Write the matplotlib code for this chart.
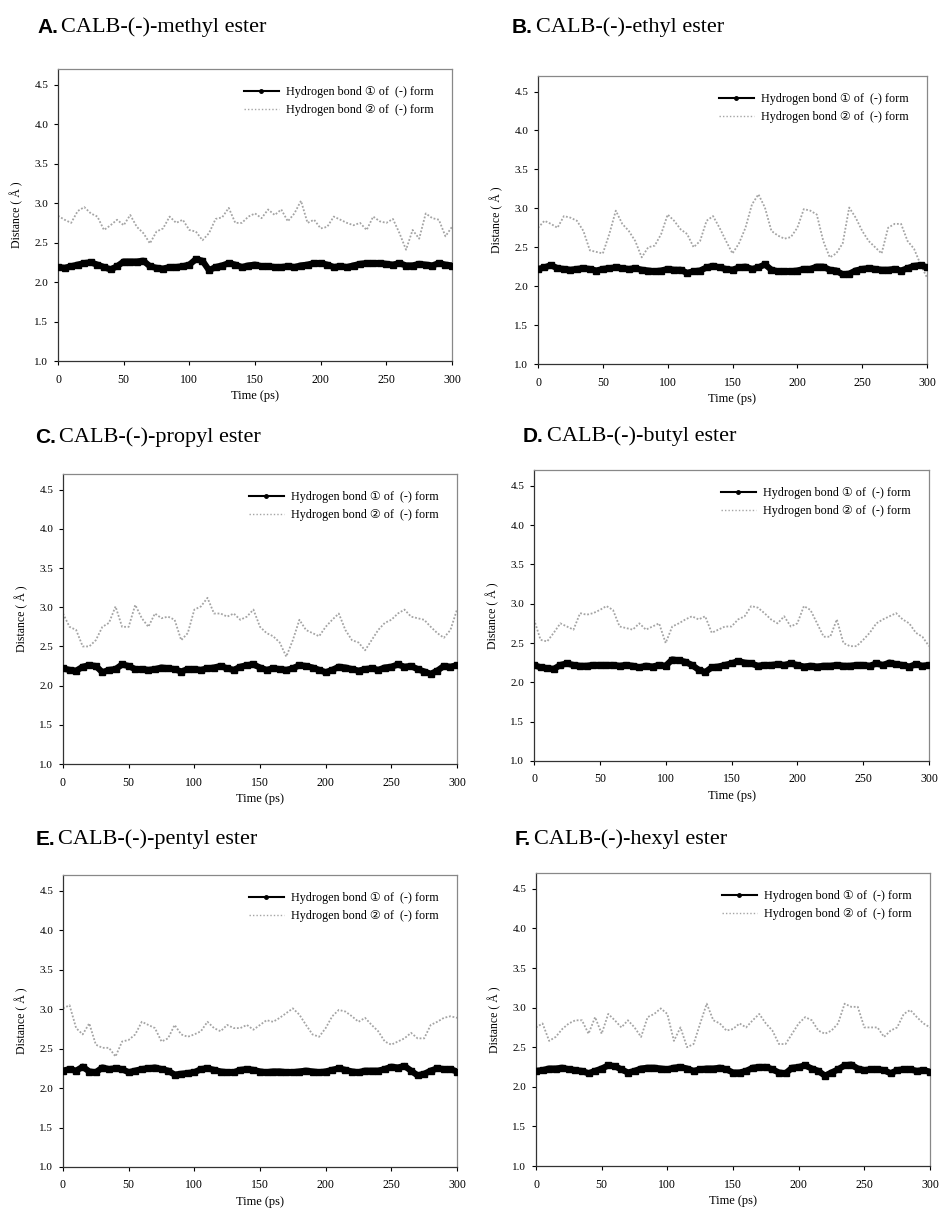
import numpy as np
import matplotlib
matplotlib.use("Agg")
import matplotlib.pyplot as plt

# time axis, sampled every 5 ps
time_ps = np.arange(0, 301, 5)

# panel A - methyl ester
a_bond1 = [2.19, 2.18, 2.20, 2.22, 2.24, 2.25, 2.22, 2.19, 2.16, 2.20, 2.26, 2.26, 2.26, 2.27, 2.20, 2.18,
           2.17, 2.19, 2.19, 2.20, 2.22, 2.29, 2.27, 2.15, 2.19, 2.21, 2.24, 2.22, 2.19, 2.21, 2.22, 2.20,
           2.20, 2.19, 2.19, 2.20, 2.19, 2.21, 2.22, 2.24, 2.24, 2.22, 2.19, 2.20, 2.19, 2.21, 2.23, 2.24,
           2.24, 2.24, 2.23, 2.22, 2.24, 2.21, 2.21, 2.23, 2.22, 2.21, 2.24, 2.22, 2.21]
a_bond2 = [2.84, 2.79, 2.75, 2.90, 2.95, 2.87, 2.83, 2.66, 2.72, 2.79, 2.72, 2.85, 2.70, 2.62, 2.49, 2.64,
           2.68, 2.83, 2.75, 2.79, 2.66, 2.64, 2.53, 2.62, 2.80, 2.82, 2.94, 2.75, 2.75, 2.83, 2.87, 2.81,
           2.92, 2.85, 2.92, 2.77, 2.87, 3.03, 2.75, 2.79, 2.68, 2.70, 2.83, 2.79, 2.75, 2.72, 2.75, 2.66,
           2.83, 2.77, 2.75, 2.80, 2.62, 2.41, 2.66, 2.55, 2.87, 2.81, 2.79, 2.58, 2.70]

# panel B - ethyl ester
b_bond1 = [2.22, 2.24, 2.27, 2.23, 2.22, 2.21, 2.22, 2.23, 2.22, 2.20, 2.22, 2.23, 2.24, 2.23, 2.22, 2.23,
           2.21, 2.20, 2.19, 2.20, 2.22, 2.21, 2.21, 2.17, 2.19, 2.20, 2.24, 2.26, 2.24, 2.22, 2.21, 2.24,
           2.25, 2.22, 2.24, 2.28, 2.21, 2.19, 2.19, 2.19, 2.20, 2.22, 2.22, 2.25, 2.25, 2.21, 2.20, 2.15,
           2.16, 2.20, 2.22, 2.23, 2.22, 2.21, 2.21, 2.22, 2.20, 2.23, 2.26, 2.27, 2.24]
b_bond2 = [2.75, 2.84, 2.80, 2.75, 2.90, 2.88, 2.84, 2.71, 2.46, 2.44, 2.42, 2.67, 2.97, 2.80, 2.71, 2.58,
           2.37, 2.50, 2.52, 2.67, 2.92, 2.84, 2.73, 2.67, 2.50, 2.58, 2.84, 2.90, 2.75, 2.58, 2.42, 2.55,
           2.75, 3.05, 3.18, 3.01, 2.71, 2.65, 2.61, 2.63, 2.75, 2.99, 2.97, 2.92, 2.58, 2.37, 2.42, 2.55,
           3.01, 2.88, 2.71, 2.58, 2.50, 2.42, 2.75, 2.80, 2.80, 2.58, 2.48, 2.28, 2.11]

# panel C - propyl ester
c_bond1 = [2.22, 2.20, 2.19, 2.24, 2.26, 2.25, 2.17, 2.20, 2.21, 2.27, 2.25, 2.21, 2.21, 2.20, 2.21, 2.23,
           2.22, 2.21, 2.18, 2.21, 2.21, 2.20, 2.22, 2.23, 2.25, 2.22, 2.20, 2.24, 2.26, 2.27, 2.23, 2.20,
           2.22, 2.21, 2.20, 2.22, 2.26, 2.25, 2.23, 2.20, 2.17, 2.20, 2.24, 2.23, 2.21, 2.19, 2.21, 2.22,
           2.20, 2.23, 2.24, 2.27, 2.24, 2.25, 2.21, 2.18, 2.15, 2.19, 2.25, 2.24, 2.26]
c_bond2 = [2.92, 2.75, 2.71, 2.50, 2.50, 2.58, 2.75, 2.80, 3.01, 2.75, 2.75, 3.03, 2.86, 2.75, 2.92, 2.86,
           2.88, 2.84, 2.58, 2.67, 2.97, 3.01, 3.12, 2.92, 2.92, 2.88, 2.92, 2.84, 2.88, 2.97, 2.75, 2.67,
           2.63, 2.55, 2.37, 2.58, 2.84, 2.71, 2.67, 2.63, 2.75, 2.84, 2.92, 2.71, 2.58, 2.55, 2.45, 2.58,
           2.71, 2.80, 2.84, 2.92, 2.97, 2.88, 2.86, 2.84, 2.75, 2.67, 2.61, 2.71, 2.97]

# panel D - butyl ester
d_bond1 = [2.22, 2.19, 2.18, 2.17, 2.22, 2.24, 2.22, 2.21, 2.21, 2.22, 2.22, 2.22, 2.22, 2.21, 2.22, 2.21,
           2.19, 2.21, 2.20, 2.22, 2.21, 2.29, 2.28, 2.26, 2.22, 2.16, 2.13, 2.19, 2.20, 2.22, 2.24, 2.27,
           2.25, 2.24, 2.21, 2.22, 2.22, 2.23, 2.22, 2.24, 2.22, 2.20, 2.21, 2.20, 2.21, 2.21, 2.22, 2.21,
           2.21, 2.22, 2.22, 2.21, 2.24, 2.22, 2.25, 2.23, 2.22, 2.20, 2.23, 2.21, 2.22]
d_bond2 = [2.80, 2.54, 2.52, 2.63, 2.75, 2.71, 2.67, 2.88, 2.86, 2.88, 2.92, 2.97, 2.92, 2.71, 2.69, 2.67,
           2.75, 2.67, 2.71, 2.75, 2.50, 2.71, 2.75, 2.80, 2.84, 2.80, 2.84, 2.63, 2.67, 2.71, 2.71, 2.80,
           2.84, 2.97, 2.95, 2.88, 2.80, 2.75, 2.84, 2.71, 2.75, 2.97, 2.92, 2.75, 2.58, 2.58, 2.80, 2.50,
           2.46, 2.46, 2.54, 2.63, 2.75, 2.80, 2.84, 2.88, 2.80, 2.75, 2.63, 2.58, 2.46]

# panel E - pentyl ester
e_bond1 = [2.22, 2.24, 2.22, 2.27, 2.21, 2.20, 2.26, 2.24, 2.25, 2.24, 2.20, 2.22, 2.24, 2.25, 2.26, 2.24,
           2.22, 2.17, 2.18, 2.19, 2.20, 2.24, 2.25, 2.23, 2.21, 2.20, 2.20, 2.23, 2.24, 2.23, 2.21, 2.20,
           2.21, 2.21, 2.20, 2.20, 2.21, 2.22, 2.21, 2.20, 2.21, 2.23, 2.25, 2.23, 2.21, 2.20, 2.22, 2.22,
           2.22, 2.24, 2.27, 2.26, 2.28, 2.22, 2.16, 2.18, 2.22, 2.25, 2.24, 2.24, 2.21]
e_bond2 = [3.01, 3.05, 2.76, 2.68, 2.82, 2.55, 2.51, 2.51, 2.40, 2.59, 2.61, 2.68, 2.84, 2.80, 2.76, 2.59,
           2.63, 2.80, 2.68, 2.65, 2.68, 2.72, 2.84, 2.76, 2.72, 2.80, 2.76, 2.76, 2.80, 2.74, 2.80, 2.86,
           2.84, 2.89, 2.95, 3.01, 2.93, 2.80, 2.68, 2.65, 2.76, 2.91, 2.99, 2.97, 2.91, 2.84, 2.89, 2.80,
           2.72, 2.59, 2.55, 2.59, 2.63, 2.70, 2.63, 2.63, 2.80, 2.84, 2.89, 2.91, 2.89]

# panel F - hexyl ester
f_bond1 = [2.20, 2.21, 2.23, 2.23, 2.24, 2.22, 2.21, 2.20, 2.17, 2.20, 2.23, 2.27, 2.26, 2.22, 2.18, 2.20,
           2.23, 2.24, 2.24, 2.23, 2.22, 2.24, 2.25, 2.23, 2.20, 2.22, 2.23, 2.23, 2.24, 2.22, 2.18, 2.18,
           2.20, 2.24, 2.25, 2.25, 2.22, 2.18, 2.17, 2.24, 2.25, 2.27, 2.23, 2.20, 2.14, 2.18, 2.22, 2.27,
           2.28, 2.23, 2.21, 2.22, 2.22, 2.21, 2.17, 2.21, 2.22, 2.22, 2.20, 2.21, 2.19]
f_bond2 = [2.75, 2.80, 2.58, 2.63, 2.73, 2.80, 2.84, 2.84, 2.67, 2.88, 2.67, 2.92, 2.84, 2.75, 2.84, 2.75,
           2.63, 2.88, 2.92, 2.99, 2.92, 2.58, 2.75, 2.50, 2.54, 2.80, 3.05, 2.84, 2.80, 2.71, 2.73, 2.80,
           2.75, 2.84, 2.92, 2.80, 2.71, 2.54, 2.54, 2.67, 2.80, 2.88, 2.84, 2.71, 2.67, 2.71, 2.80, 3.05,
           3.01, 3.01, 2.75, 2.75, 2.75, 2.63, 2.71, 2.75, 2.92, 2.97, 2.88, 2.80, 2.75]

letters = ["A.", "B.", "C.", "D.", "E.", "F."]
esters = ["CALB-(-)-methyl ester", "CALB-(-)-ethyl ester", "CALB-(-)-propyl ester",
          "CALB-(-)-butyl ester", "CALB-(-)-pentyl ester", "CALB-(-)-hexyl ester"]
bond1_series = [a_bond1, b_bond1, c_bond1, d_bond1, e_bond1, f_bond1]
bond2_series = [a_bond2, b_bond2, c_bond2, d_bond2, e_bond2, f_bond2]
legend_labels = ["Hydrogen bond \u2460 of  (-) form", "Hydrogen bond \u2461 of  (-) form"]

W, H = 939, 1213
# axes boxes in pixels: left, right, top, bottom
boxes = [(58, 452, 69, 361), (538, 927, 76, 364),
         (63, 457, 474, 764), (534, 929, 470, 761),
         (63, 457, 875, 1167), (536, 930, 873, 1166)]
# title positions in pixels: left of the letter, baseline
title_pos = [(37, 33), (512, 33), (35, 443), (523, 442), (36, 845), (515, 845)]

serif = ["Liberation Serif", "DejaVu Sans", "Noto Sans CJK SC"]
plt.rcParams["font.family"] = serif

fig = plt.figure(figsize=(W / 100, H / 100), dpi=100)

for i in range(6):
    l, r, t, b = boxes[i]
    ax = fig.add_axes([l / W, 1 - b / H, (r - l) / W, (b - t) / H])
    ax.plot(time_ps, bond2_series[i], color="#a4a4a4", linestyle=(0, (1, 1)), linewidth=1.3,
            label=legend_labels[1], zorder=2)
    ax.plot(time_ps, bond1_series[i], color="black", linewidth=4.5, marker="s", markersize=4,
            label=legend_labels[0], zorder=3)

    ax.set_xlim(0, 300)
    ax.set_ylim(1.0, 4.7)
    ax.set_xticks(np.arange(0, 301, 50))
    ax.set_yticks(np.arange(1.0, 4.51, 0.5))
    ax.set_yticklabels(["%.1f" % v for v in np.arange(1.0, 4.51, 0.5)])
    ax.tick_params(direction="out", length=3, width=0.8, labelsize=8, pad=4)
    ax.tick_params(axis="x", labelsize=8.5, pad=6)
    for side in ["left", "bottom"]:
        ax.spines[side].set_color("#333333")
        ax.spines[side].set_linewidth(0.9)
    for side in ["top", "right"]:
        ax.spines[side].set_color("#888888")
        ax.spines[side].set_linewidth(0.9)

    ax.set_ylabel("Distance ( \u00c5 )", fontsize=8.5, labelpad=8)
    ax.set_xlabel("Time (ps)", fontsize=9, labelpad=3)

    # legend: black line with a dot, gray dotted line
    h1 = plt.Line2D([], [], color="black", linewidth=1.5, marker="o", markersize=2.5)
    h2 = plt.Line2D([], [], color="#a4a4a4", linewidth=1.0, linestyle=(0, (1, 1.5)))
    ax.legend([h1, h2], legend_labels, loc="upper right", bbox_to_anchor=(0.975, 0.97),
              frameon=False, fontsize=8.7, handlelength=2.9, handletextpad=0.6,
              labelspacing=0.5, borderaxespad=0.3)

    tx, ty = title_pos[i]
    let = fig.text(tx / W, 1 - ty / H, letters[i], fontsize=15, fontweight="bold",
                   family="Liberation Sans", va="baseline", ha="left")
    ax.annotate(esters[i], xy=(1, 0), xycoords=let, xytext=(2, 0), textcoords="offset points",
                fontsize=16, va="bottom", ha="left", annotation_clip=False)

fig.savefig("out.png", dpi=100)
